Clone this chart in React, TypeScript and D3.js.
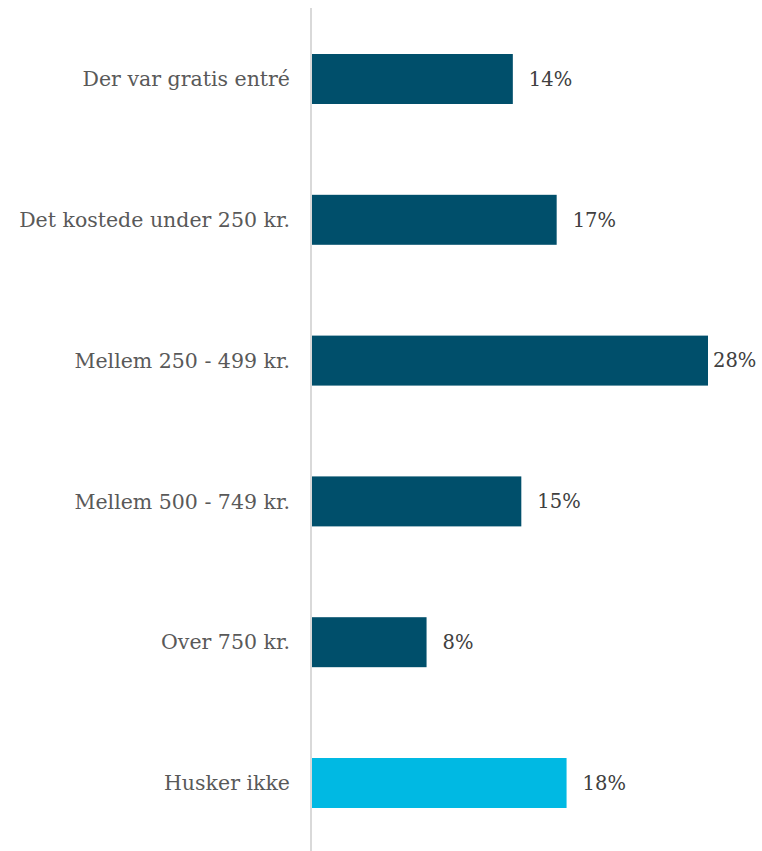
import React, { useEffect, useRef } from "react";
import * as d3 from "d3";

const categories = [
  "Der var gratis entré",
  "Det kostede under 250 kr.",
  "Mellem 250 - 499 kr.",
  "Mellem 500 - 749 kr.",
  "Over 750 kr.",
  "Husker ikke",
];
const values = [14.2, 17.3, 28, 14.8, 8.1, 18];
const highlight = [false, false, false, false, false, true];

const W = 762;
const H = 851;
const FONT = "'DejaVu Serif', Georgia, serif";

export default function App() {
  const ref = useRef<SVGSVGElement>(null);
  useEffect(() => {
    document.body.style.margin = "0";
    const svg = d3.select(ref.current);
    svg.selectAll("*").remove();
    const x0 = 312;
    const x = d3.scaleLinear().domain([0, 28]).range([x0, 708]);
    const y = d3
      .scaleBand<string>()
      .domain(categories)
      .range([8.6, 853.4])
      .paddingInner(0.645)
      .paddingOuter(0.3225);

    svg
      .append("line")
      .attr("x1", 311)
      .attr("x2", 311)
      .attr("y1", 8)
      .attr("y2", H)
      .attr("stroke", "#d9d9d9")
      .attr("stroke-width", 2);

    const data = categories.map((c, i) => ({ c, v: values[i], h: highlight[i] }));

    svg
      .selectAll("rect.bar")
      .data(data)
      .join("rect")
      .attr("class", "bar")
      .attr("x", x0)
      .attr("y", (d) => y(d.c)!)
      .attr("width", (d) => x(d.v) - x0)
      .attr("height", y.bandwidth())
      .attr("fill", (d) => (d.h ? "#00B9E3" : "#004F6B"));

    svg
      .selectAll("text.cat")
      .data(data)
      .join("text")
      .attr("class", "cat")
      .attr("x", 290)
      .attr("y", (d) => y(d.c)! + y.bandwidth() / 2)
      .attr("dy", "0.35em")
      .attr("text-anchor", "end")
      .attr("font-family", FONT)
      .attr("font-size", 20.5)
      .attr("fill", "#595959")
      .text((d) => d.c);

    const vl = svg
      .selectAll("text.val")
      .data(data)
      .join("text")
      .attr("class", "val")
      .attr("y", (d) => y(d.c)! + y.bandwidth() / 2)
      .attr("dy", "0.35em")
      .attr("font-family", FONT)
      .attr("font-size", 19.5)
      .attr("fill", "#404040")
      .text((d) => `${Math.round(d.v)}%`);

    vl.each(function (d: any) {
      const t = this as SVGTextElement;
      const w = t.getComputedTextLength();
      const end = x(d.v);
      const xs = end + 16 + w > W - 2 ? end + 5 : end + 16;
      d3.select(t).attr("x", xs);
    });
  }, []);
  return (
    <svg
      ref={ref}
      width={W}
      height={H}
      style={{ position: "absolute", left: 0, top: 0, background: "#fff" }}
    />
  );
}
